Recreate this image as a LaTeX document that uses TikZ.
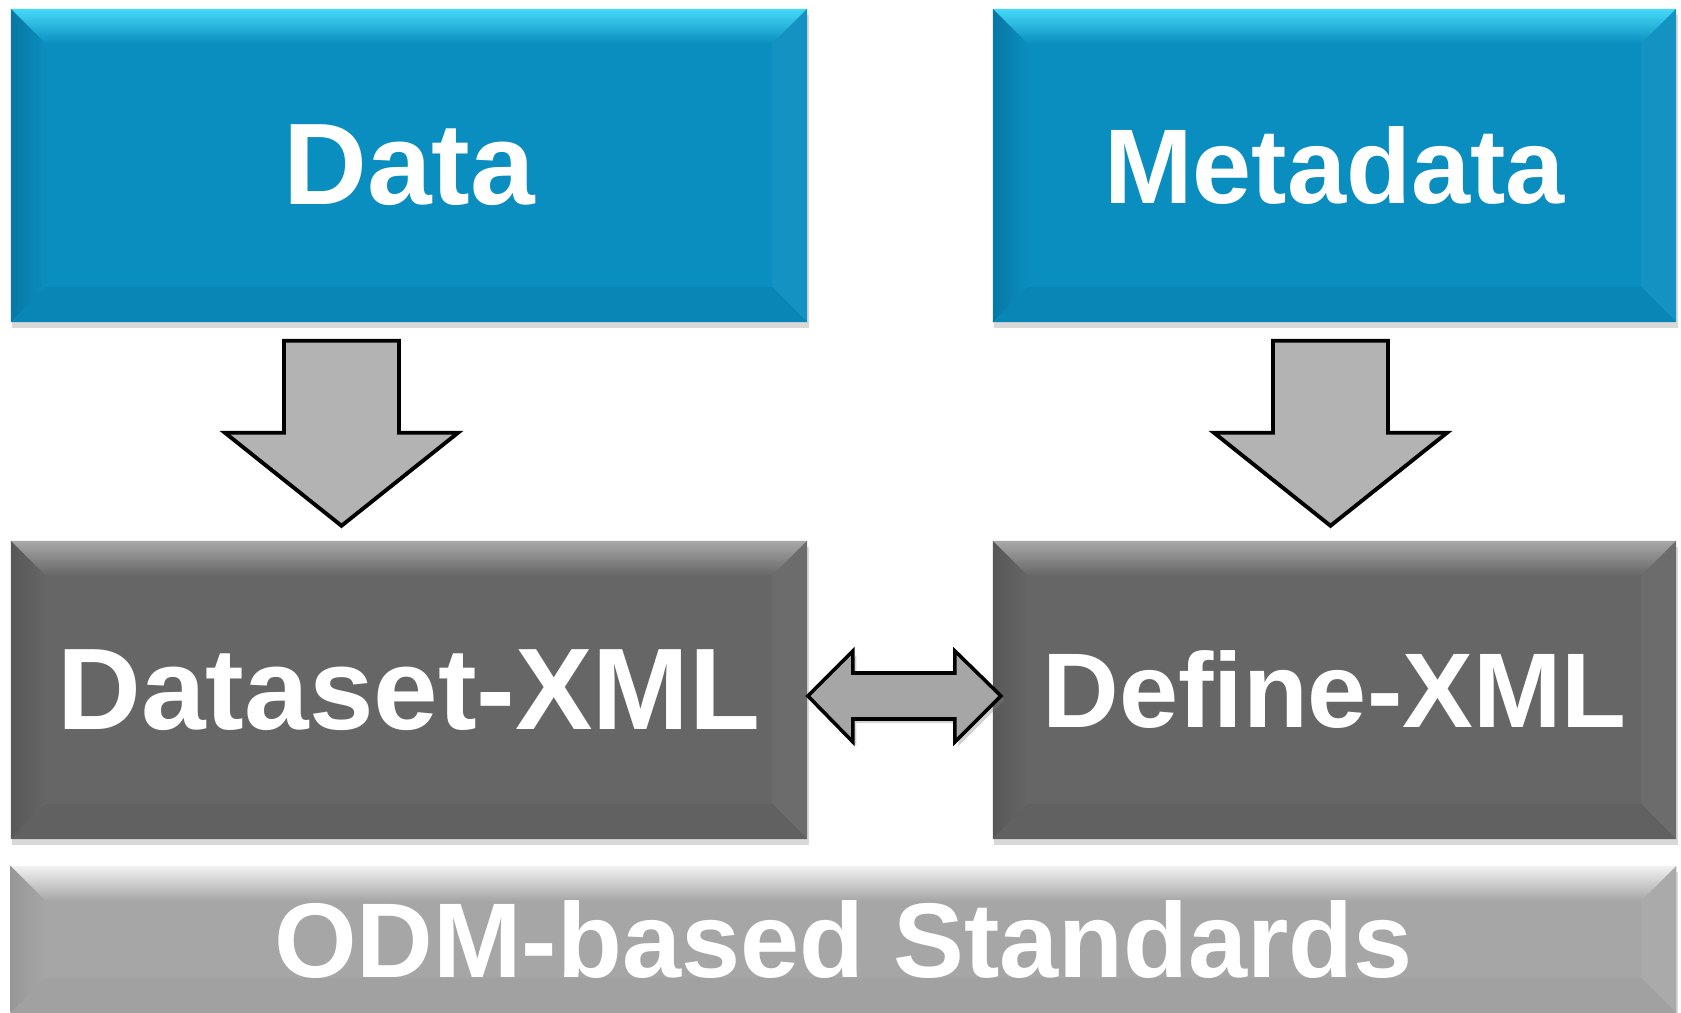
\documentclass[tikz,border=0pt]{standalone}
\usepackage{fontspec}
\setmainfont{Liberation Sans}
\usepackage{xcolor}
\usetikzlibrary{calc,positioning,shadows}
\definecolor{blueA}{HTML}{0A8EBF}
\definecolor{blueL}{HTML}{45D9F7}
\definecolor{blueD}{HTML}{0877A4}
\definecolor{greyA}{HTML}{666666}
\definecolor{greyL}{HTML}{A8A8A8}
\definecolor{greyD}{HTML}{585858}
\definecolor{barA}{HTML}{A6A6A6}
\definecolor{barL}{HTML}{F2F2F2}
\definecolor{barD}{HTML}{979797}
\definecolor{arrowfill}{HTML}{B3B3B3}

\begin{document}
\begin{tikzpicture}[x=0.01cm, y=-0.01cm,
  box/.style n args={3}{rectangle, inner sep=0pt, fill=#1, text=white,
    drop shadow={shadow xshift=0.4pt, shadow yshift=-1.6pt, opacity=0.3},
    path picture={
      \coordinate (pnw) at (path picture bounding box.north west);
      \coordinate (pne) at (path picture bounding box.north east);
      \coordinate (psw) at (path picture bounding box.south west);
      \coordinate (pse) at (path picture bounding box.south east);
      \shade[top color=#2, bottom color=#1] (pnw) -- (pne) -- ([xshift=-3.5mm,yshift=-3.5mm]pne) -- ([xshift=3.5mm,yshift=-3.5mm]pnw) -- cycle;
      \shade[left color=#3, right color=#1] (pnw) -- ([xshift=3.5mm,yshift=-3.5mm]pnw) -- ([xshift=3.5mm,yshift=3.5mm]psw) -- (psw) -- cycle;
      \fill[#1!96!white] (pne) -- (pse) -- ([xshift=-3.5mm,yshift=3.5mm]pse) -- ([xshift=-3.5mm,yshift=-3.5mm]pne) -- cycle;
      \fill[#3!35!#1] (psw) -- (pse) -- ([xshift=-3.5mm,yshift=3.5mm]pse) -- ([xshift=3.5mm,yshift=3.5mm]psw) -- cycle;
    }},
  bigtxt/.style={font=\bfseries\fontsize{33}{40}\selectfont},
  smalltxt/.style={font=\bfseries\fontsize{30.2}{36}\selectfont},
  bigarrow/.style={draw=black, line width=1.1pt, fill=arrowfill, line join=miter},
  dblarrow/.style={draw=black, line width=1pt, fill=barA, line join=miter,
    drop shadow={shadow xshift=1pt, shadow yshift=-1.2pt, opacity=0.35}}]
\useasboundingbox (0,0) rectangle (1681,1013);

\node[box={blueA}{blueL}{blueD}, bigtxt, minimum width=7.96cm, minimum height=3.13cm] (data) at (409,165.5) {Data};
\node[box={blueA}{blueL}{blueD}, smalltxt, minimum width=6.83cm, minimum height=3.13cm] (meta) at (1334.5,165.5) {Metadata};
\node[box={greyA}{greyL}{greyD}, bigtxt, minimum width=7.96cm, minimum height=2.98cm] (dsxml) at (409,690) {Dataset-XML};
\node[box={greyA}{greyL}{greyD}, smalltxt, minimum width=6.83cm, minimum height=2.98cm] (defxml) at (1334.5,690) {Define-XML};
\node[box={barA}{barL}{barD}, smalltxt, minimum width=16.65cm, minimum height=1.47cm] (odm) at (843.5,939.5) {ODM-based Standards};

\draw[bigarrow] ($(data.south)+(-125,18)$) -- ++(115,0) -- ++(0,92) -- ++(59,0) -- ++(-116.5,93) -- ++(-116.5,-93) -- ++(59,0) -- cycle;
\draw[bigarrow] ($(meta.south)+(-61.5,18)$) -- ++(115,0) -- ++(0,92) -- ++(59,0) -- ++(-116.5,93) -- ++(-116.5,-93) -- ++(59,0) -- cycle;
\draw[dblarrow] ($(dsxml.east)+(0,6)$) -- ++(45,-45) -- ++(0,22) -- ++(102,0) -- ++(0,-22) -- ++(46,45) -- ++(-46,46) -- ++(0,-23) -- ++(-102,0) -- ++(0,23) -- cycle;
\end{tikzpicture}
\end{document}
